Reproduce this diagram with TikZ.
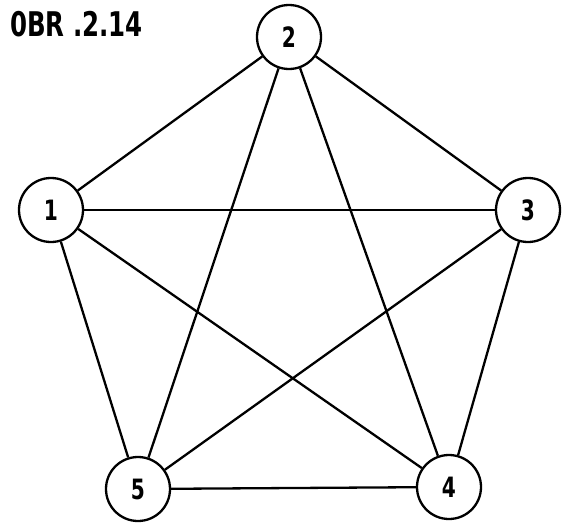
\documentclass[tikz,border=0pt]{standalone}
\usepackage{fontspec}
\setmainfont{DejaVu Sans}
\newfontfamily\condfont{DejaVu Sans Condensed}
\begin{document}
\begin{tikzpicture}[x=1pt,y=-1pt,
  vtx/.style={draw,circle,line width=2.3pt,minimum size=64pt,inner sep=0pt,font=\condfont\bfseries\fontsize{28}{30}\selectfont},
  edge/.style={line width=2.3pt}]
\useasboundingbox (0,0) rectangle (562,525);
\node[anchor=west,inner sep=0pt,font=\condfont\bfseries\fontsize{34}{36}\selectfont] (title) at (10,24) {\scalebox{0.8}[1]{0BR .2.14}};
\node[vtx] (n2) at (289,37) {\scalebox{0.8}[1]{2}};
\node[vtx] (n1) at (51,210) {\scalebox{0.8}[1]{1}};
\node[vtx] (n3) at (528,210) {\scalebox{0.8}[1]{3}};
\node[vtx] (n5) at (138,489) {\scalebox{0.8}[1]{5}};
\node[vtx] (n4) at (449,487) {\scalebox{0.8}[1]{4}};
\draw[edge] (n1) -- (n2);
\draw[edge] (n1) -- (n3);
\draw[edge] (n1) -- (n4);
\draw[edge] (n1) -- (n5);
\draw[edge] (n2) -- (n3);
\draw[edge] (n2) -- (n4);
\draw[edge] (n2) -- (n5);
\draw[edge] (n3) -- (n4);
\draw[edge] (n3) -- (n5);
\draw[edge] (n4) -- (n5);
\end{tikzpicture}
\end{document}
